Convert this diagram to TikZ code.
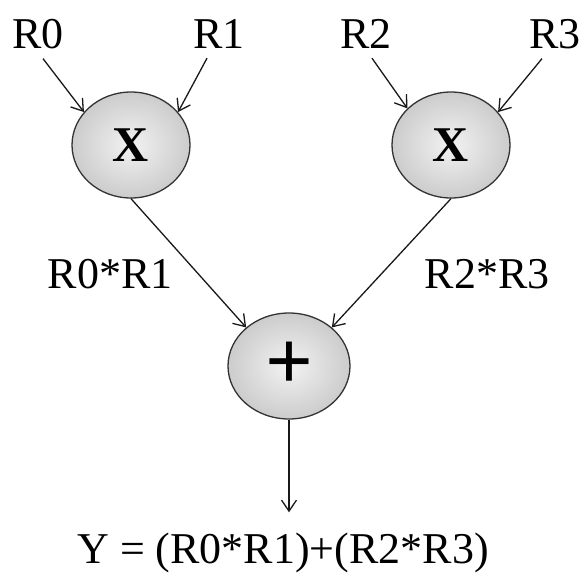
\documentclass[tikz,border=0pt]{standalone}
\usepackage{fontspec}
\setmainfont{Liberation Serif}
\usetikzlibrary{positioning,arrows.meta,shapes.geometric}
\tikzset{
  txt/.style ={font=\fontsize{44}{50}\selectfont, inner sep=0pt},
  op/.style  ={ellipse, draw=black!80, line width=1.3pt, inner sep=0pt,
               minimum width=118pt, minimum height=106pt,
               inner color=black!5, outer color=black!20},
  mul/.style ={op, font=\fontsize{50}{50}\selectfont\bfseries},
  add/.style ={op, minimum width=122pt, font=\fontsize{84}{84}\selectfont\bfseries},
  fl/.style  ={-{Straight Barb[length=11pt,width=15pt,line width=1.3pt]}, line width=1.3pt, black!90},
}
\begin{document}
\begin{tikzpicture}[x=1pt,y=-1pt]
  \useasboundingbox[fill=white] (0,0) rectangle (584,576);

  % inputs
  \node[txt, anchor=base] (r0) at (38,48)  {R0};
  \node[txt, anchor=base] (r1) at (219,48) {R1};
  \node[txt, anchor=base] (r2) at (366,48) {R2};
  \node[txt, anchor=base] (r3) at (555,48) {R3};

  % multipliers and adder
  \node[mul] (mulA) at (131,145) {\raisebox{-4pt}{X}};
  \node[mul] (mulB) at (451,145) {\raisebox{-4pt}{X}};
  \node[add] (sum)  at (289,366) {\raisebox{-2pt}{+}};

  % partial products and result
  \node[txt, anchor=base] (pA) at (110,288) {R0*R1};
  \node[txt, anchor=base] (pB) at (487,288) {R2*R3};
  \node[txt, anchor=base, inner sep=4pt] (eq) at (283,563) {Y = (R0*R1)+(R2*R3)};

  \draw[fl] ([xshift=5pt,yshift=-10pt]r0.south)   -- (mulA.145);
  \draw[fl] ([xshift=-12pt,yshift=-10pt]r1.south) -- (mulA.35);
  \draw[fl] ([xshift=6pt,yshift=-10pt]r2.south)   -- (mulB.140);
  \draw[fl] ([xshift=-13pt,yshift=-10pt]r3.south) -- (mulB.35);
  \draw[fl] (mulA.south) -- (sum.138);
  \draw[fl] (mulB.south) -- (sum.42);
  \draw[fl, shorten >=16pt] (sum.south) -- (sum.south |- eq.north);
\end{tikzpicture}
\end{document}
